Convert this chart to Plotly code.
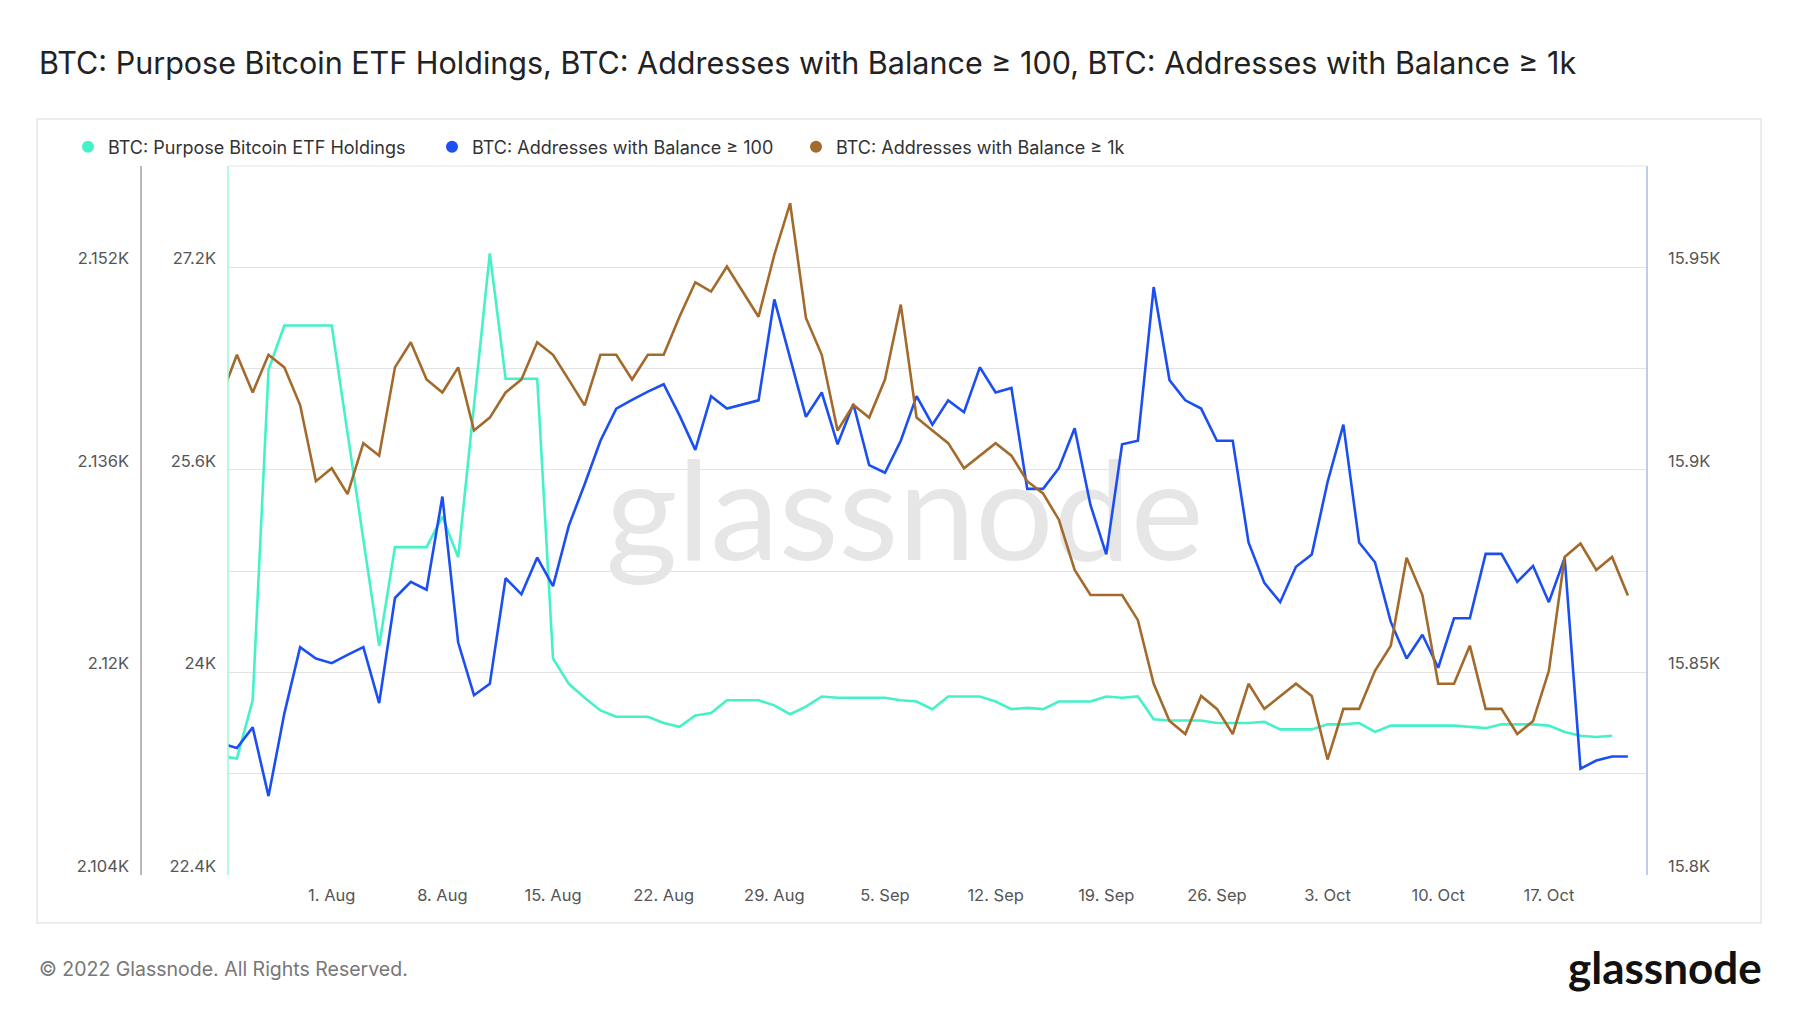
import pandas as pd
import plotly.graph_objects as go

# daily dates, first point 25 Jul 2022
dates = pd.date_range("2022-07-25", periods=90, freq="D")

etf_holdings = [
    2113.4, 2113.2, 2117.8, 2143.9, 2147.4, 2147.4, 2147.4, 2147.4, 2138.9, 2130.5,
    2122.1, 2129.9, 2129.9, 2129.9, 2132.3, 2129.1, 2141.1, 2153.1, 2143.2, 2143.2,
    2143.2, 2121.1, 2119.1, 2118.0, 2117.0, 2116.5, 2116.5, 2116.5, 2116.0, 2115.7,
    2116.6, 2116.8, 2117.8, 2117.8, 2117.8, 2117.4, 2116.7, 2117.3, 2118.1, 2118.0,
    2118.0, 2118.0, 2118.0, 2117.8, 2117.7, 2117.1, 2118.1, 2118.1, 2118.1, 2117.7,
    2117.1, 2117.2, 2117.1, 2117.7, 2117.7, 2117.7, 2118.1, 2118.0, 2118.1, 2116.3,
    2116.2, 2116.2, 2116.2, 2116.0, 2116.0, 2116.0, 2116.1, 2115.5, 2115.5, 2115.5,
    2115.9, 2115.9, 2116.0, 2115.3, 2115.8, 2115.8, 2115.8, 2115.8, 2115.8, 2115.7,
    2115.6, 2115.9, 2115.9, 2115.9, 2115.8, 2115.3, 2115.0, 2114.9, 2115.0, None,
]

addr_100 = [
    23439, 23403, 23566, 23023, 23675, 24200, 24110, 24073, 24139, 24200,
    23758, 24588, 24715, 24653, 25389, 24236, 23820, 23910, 24744, 24617,
    24907, 24682, 25160, 25486, 25830, 26084, 26153, 26218, 26276, 26030,
    25758, 26182, 26084, 26117, 26149, 26946, 26482, 26019, 26211, 25802,
    26120, 25638, 25577, 25830, 26182, 25957, 26149, 26055, 26410, 26211,
    26247, 25450, 25450, 25613, 25928, 25323, 24932, 25802, 25830, 27044,
    26309, 26149, 26084, 25830, 25830, 25026, 24707, 24555, 24834, 24932,
    25504, 25957, 25026, 24870, 24399, 24110, 24298, 24037, 24428, 24428,
    24936, 24936, 24715, 24841, 24555, 24904, 23240, 23304, 23336, 23336,
]

addr_1k = [
    15918.0, 15928.4, 15919.1, 15928.4, 15925.3, 15916.0, 15897.2, 15900.4, 15894.0, 15906.6,
    15903.5, 15925.3, 15931.5, 15922.3, 15919.1, 15925.3, 15909.7, 15912.9, 15919.1, 15922.3,
    15931.5, 15928.4, 15922.2, 15915.9, 15928.4, 15928.4, 15922.3, 15928.4, 15928.4, 15937.8,
    15946.3, 15944.0, 15950.2, 15944.0, 15937.8, 15953.1, 15965.8, 15937.5, 15928.4, 15909.7,
    15916.0, 15912.9, 15922.3, 15940.8, 15912.9, 15909.7, 15906.6, 15900.4, 15903.6, 15906.6,
    15903.5, 15897.2, 15894.2, 15887.7, 15875.3, 15869.1, 15869.1, 15869.1, 15862.9, 15847.2,
    15838.0, 15834.8, 15844.2, 15841.0, 15834.8, 15847.2, 15841.0, 15844.2, 15847.2, 15844.2,
    15828.5, 15841.0, 15841.0, 15850.4, 15856.6, 15878.3, 15869.1, 15847.2, 15847.2, 15856.6,
    15841.0, 15841.0, 15834.8, 15838.0, 15850.4, 15878.5, 15881.8, 15875.3, 15878.5, 15869.0,
]

names = [
    "BTC: Purpose Bitcoin ETF Holdings",
    "BTC: Addresses with Balance ≥ 100",
    "BTC: Addresses with Balance ≥ 1k",
]
colors = ["#45f2c8", "#1c4ff2", "#a36a2b"]

etf_ticks = [2104, 2112, 2120, 2128, 2136, 2144, 2152]
etf_text = ["2.104K", "", "2.12K", "", "2.136K", "", "2.152K"]
a100_ticks = [22400, 23200, 24000, 24800, 25600, 26400, 27200]
a100_text = ["22.4K", "", "24K", "", "25.6K", "", "27.2K"]
a1k_ticks = [15800, 15825, 15850, 15875, 15900, 15925, 15950]
a1k_text = ["15.8K", "", "15.85K", "", "15.9K", "", "15.95K"]
x_ticks = pd.date_range("2022-08-01", "2022-10-17", freq="7D")

W, H = 1800, 1013
L, R, T, B = 220, 1639, 158, 867  # plot area in px

fig = go.Figure()

# watermark under the lines
fig.add_trace(go.Scatter(
    x=[pd.Timestamp("2022-09-06 06:00")], y=[2131.6], mode="text", text=["glassnode"],
    textfont=dict(size=138, color="#e6e6e6", family="Lato"),
    yaxis="y", showlegend=False, hoverinfo="skip"))

axes = ["y", "y2", "y3"]
for vals, name, col, ax in zip([etf_holdings, addr_100, addr_1k], names, colors, axes):
    fig.add_trace(go.Scatter(x=dates, y=vals, name=name, mode="lines", yaxis=ax,
                             line=dict(color=col, width=2.6), showlegend=False))
    # dot marker for the legend
    fig.add_trace(go.Scatter(x=[None], y=[None], name=name, mode="markers",
                             marker=dict(color=col, size=13)))

tickfont = dict(size=16.5, color="#555555", family="Inter")

fig.update_layout(
    width=W, height=H,
    margin=dict(l=0, r=0, t=0, b=0),
    paper_bgcolor="white", plot_bgcolor="white",
    font=dict(family="Inter", color="#333333"),
    xaxis=dict(domain=[L / W, R / W], type="date",
               range=[pd.Timestamp("2022-07-25 10:30"), pd.Timestamp("2022-10-23 05:00")],
               tickvals=x_ticks, tickformat="%-d. %b", showgrid=False,
               showline=False, zeroline=False, ticks="", tickfont=tickfont, ticklabelstandoff=8),
    yaxis=dict(domain=[1 - B / H, 1 - T / H], range=[2104, 2160],
               tickvals=etf_ticks, ticktext=etf_text, showgrid=False,
               anchor="free", position=121 / W, side="left",
               showline=False, zeroline=False, ticks="", tickfont=tickfont, ticklabelshift=-9),
    yaxis2=dict(range=[22400, 28000], overlaying="y", tickvals=a100_ticks, ticktext=a100_text,
                showgrid=False, anchor="free", position=208 / W, side="left",
                showline=False, zeroline=False, ticks="", tickfont=tickfont, ticklabelshift=-9),
    yaxis3=dict(range=[15800, 15975], overlaying="y", tickvals=a1k_ticks, ticktext=a1k_text,
                showgrid=True, gridcolor="#e3e3e3", gridwidth=1.2, anchor="x", side="right",
                showline=False, zeroline=False, ticks="", tickfont=tickfont,
                ticklabelshift=-9, ticklabelstandoff=20),
    legend=dict(orientation="h", x=60 / W, y=1 - 139 / H, yanchor="middle", xanchor="left",
                font=dict(size=18, color="#333333", family="Inter"), itemsizing="constant",
                entrywidth=319, bgcolor="rgba(0,0,0,0)"),
    showlegend=True,
)

fig.add_annotation(text=", ".join(names), xref="paper", yref="paper",
                   x=29 / W, y=1 - 55 / H, xanchor="left", yanchor="middle", showarrow=False,
                   font=dict(size=30.5, color="#222222", family="Inter"))
fig.add_annotation(text="© 2022 Glassnode. All Rights Reserved.", xref="paper", yref="paper",
                   x=29 / W, y=1 - 961 / H, xanchor="left", yanchor="middle", showarrow=False,
                   font=dict(size=19.5, color="#777777", family="Inter"))
fig.add_annotation(text="<b>glassnode</b>", xref="paper", yref="paper",
                   x=1756 / W, y=1 - 959 / H, xanchor="right", yanchor="middle", showarrow=False,
                   font=dict(size=44, color="#111111", family="Lato"))

# outer frame, separator and axis edge lines
fig.add_shape(type="rect", xref="paper", yref="paper", x0=29 / W, x1=1753 / W,
              y0=1 - 915 / H, y1=1 - 111 / H, line=dict(color="#e6e6e6", width=1.5))
fig.add_shape(type="line", xref="paper", yref="paper", x0=133 / W, x1=133 / W,
              y0=1 - B / H, y1=1 - T / H, line=dict(color="#a0a0a0", width=1.5))
fig.add_shape(type="line", xref="paper", yref="paper", x0=L / W, x1=L / W,
              y0=1 - B / H, y1=1 - T / H, line=dict(color="#9ff5de", width=1.5))
fig.add_shape(type="line", xref="paper", yref="paper", x0=R / W, x1=R / W,
              y0=1 - B / H, y1=1 - T / H, line=dict(color="#a8bde8", width=1.5))
fig.add_shape(type="line", xref="paper", yref="paper", x0=L / W, x1=R / W,
              y0=1 - T / H, y1=1 - T / H, line=dict(color="#e6e6e6", width=1.2))

fig.write_html("out.html")
